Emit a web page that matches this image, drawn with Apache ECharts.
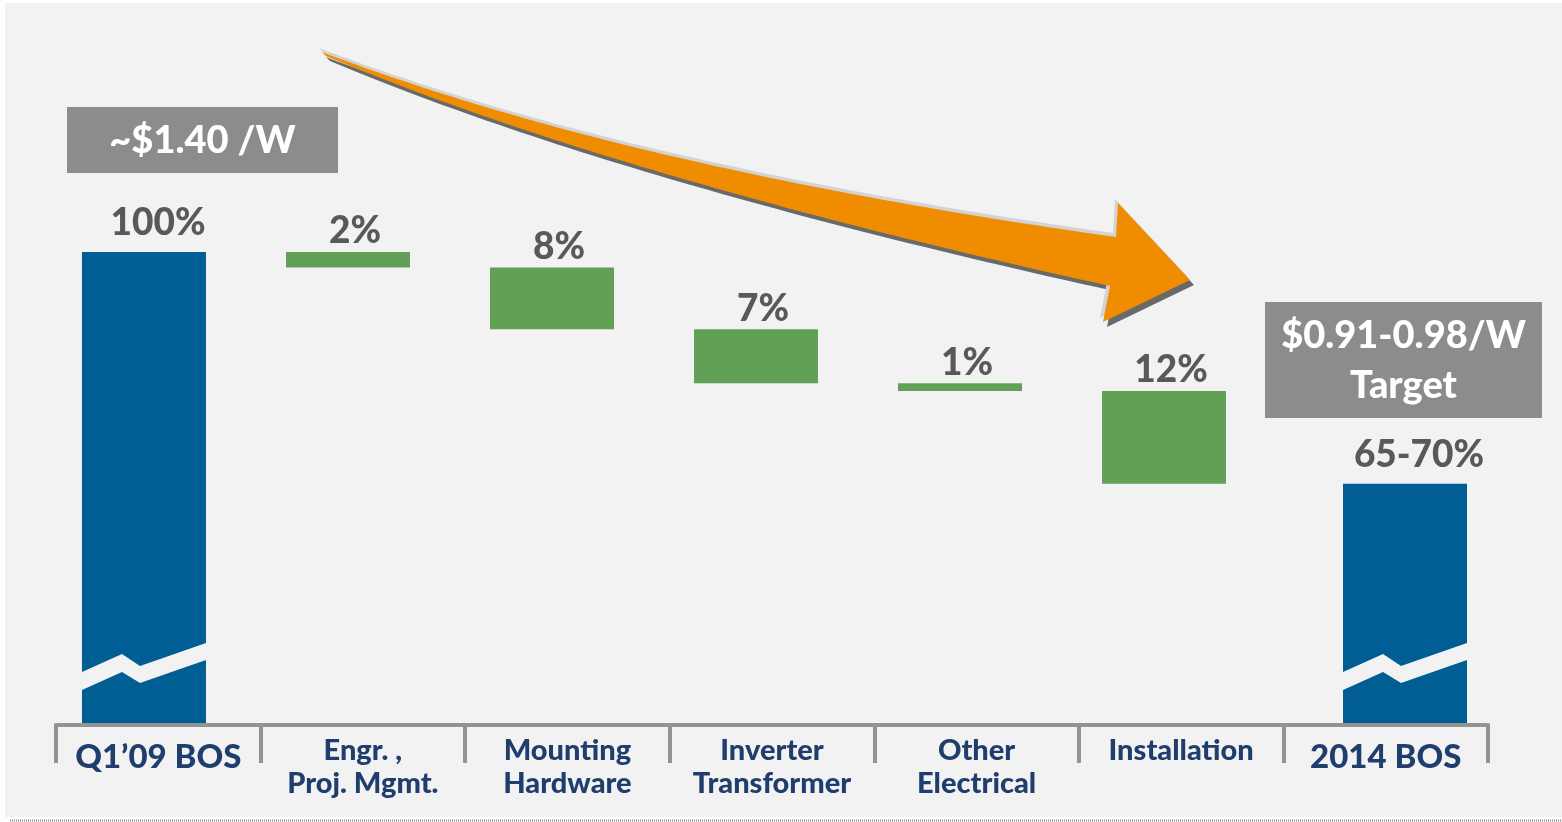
<!DOCTYPE html>
<html>
<head>
<meta charset="utf-8">
<script src="https://cdn.jsdelivr.net/npm/echarts@6/dist/echarts.min.js"></script>
<style>
  html, body { margin: 0; padding: 0; background: #ffffff; }
  #chart { width: 1562px; height: 822px; }
</style>
</head>
<body>
<div id="chart"></div>
<script>
// BOS cost waterfall: starting cost, reductions by component, target cost
const categories = ['Q1’09 BOS', 'Engr. ,\nProj. Mgmt.', 'Mounting\nHardware', 'Inverter\nTransformer', 'Other\nElectrical', 'Installation', '2014 BOS'];
const totals = [100, null, null, null, null, null, 70];
const reductions = [null, 2, 8, 7, 1, 12, null];
const valueLabels = ['100%', '2%', '8%', '7%', '1%', '12%', '65-70%'];
const startPrice = '~$1.40 /W';
const targetPrice = ['$0.91-0.98/W', 'Target'];

// invisible bases so each reduction floats under the previous level
let level = totals[0];
const bases = reductions.map(r => {
  if (r == null) return '-';
  level -= r;
  return level;
});

const FONT = 'Lato';
const WEIGHT = 900;
const PANEL = '#f2f2f2';
const BLUE = '#005e94';
const GREEN = '#62a058';
const NAVY = '#1f3e6e';
const AXIS_GRAY = '#939393';
const BOX_GRAY = '#8b8c8e';
const ORANGE = '#f08c00';
const Y_MIN = 39, Y_MAX = 105;
const BAR_W = 124;

// stripe cutting the tall bars (axis break), relative to the bar's bottom-left corner
const breakShape = [[0, -51], [40, -69], [58, -57], [124, -80], [124, -63], [58, -40], [40, -51], [0, -33]];

// decorative curved arrow outline, built from two quadratic curves
function quad(p0, c, p1, n) {
  const pts = [];
  for (let i = 0; i <= n; i++) {
    const t = i / n, u = 1 - t;
    pts.push([u * u * p0[0] + 2 * u * t * c[0] + t * t * p1[0], u * u * p0[1] + 2 * u * t * c[1] + t * t * p1[1]]);
  }
  return pts;
}
const arrowPoints = []
  .concat(quad([322, 52], [630, 169], [1116, 237], 60))
  .concat([[1118, 203], [1190, 280], [1103, 322]])
  .concat(quad([1110, 286], [613.5, 176.8], [326, 56], 60));

const chart = echarts.init(document.getElementById('chart'), null, { renderer: 'canvas' });

const gridTop = 213.4;
const hiddenY = i => ({ type: 'value', gridIndex: i, min: Y_MIN, max: Y_MAX, show: false });
const hiddenX = i => ({ type: 'category', gridIndex: i, data: categories, show: false });

const valueLabel = (distance, offset) => ({
  show: true,
  position: 'top',
  distance,
  offset,
  color: '#595959',
  fontFamily: FONT,
  fontWeight: WEIGHT,
  fontSize: 37,
  formatter: p => valueLabels[p.dataIndex]
});

chart.setOption({
  backgroundColor: '#ffffff',
  animation: false,
  grid: [
    { left: 56, right: 74, top: gridTop, bottom: 97 },    // category axis
    { left: 42, right: 92, top: gridTop, bottom: 99 },    // reduction bars
    { left: 38.9, right: 51.9, top: gridTop, bottom: 99 } // total bars
  ],
  xAxis: [
    {
      type: 'category',
      gridIndex: 0,
      data: categories,
      boundaryGap: true,
      axisLine: { show: true, lineStyle: { color: AXIS_GRAY, width: 4 } },
      axisTick: { show: true, interval: 0, length: 38, lineStyle: { color: AXIS_GRAY, width: 4 } },
      axisLabel: {
        interval: 0,
        margin: 9,
        color: NAVY,
        fontFamily: FONT,
        fontWeight: WEIGHT,
        fontSize: 29,
        lineHeight: 33,
        formatter: (v, i) => (totals[i] != null ? '{big|' + v + '}' : v),
        rich: {
          big: { fontFamily: FONT, fontWeight: WEIGHT, fontSize: 33, lineHeight: 47, color: NAVY }
        }
      },
      splitLine: { show: false }
    },
    hiddenX(1),
    hiddenX(2)
  ],
  yAxis: [hiddenY(0), hiddenY(1), hiddenY(2)],
  series: [
    {
      name: 'base',
      type: 'bar',
      xAxisIndex: 1,
      yAxisIndex: 1,
      stack: 'wf',
      barWidth: BAR_W,
      silent: true,
      itemStyle: { color: 'rgba(0,0,0,0)' },
      data: bases
    },
    {
      name: 'reduction',
      type: 'bar',
      xAxisIndex: 1,
      yAxisIndex: 1,
      stack: 'wf',
      barWidth: BAR_W,
      itemStyle: { color: GREEN },
      label: valueLabel(2, [7, 0]),
      data: reductions.map(v => (v == null ? '-' : v))
    },
    {
      name: 'total',
      type: 'bar',
      xAxisIndex: 2,
      yAxisIndex: 2,
      barWidth: BAR_W,
      clip: true,
      itemStyle: { color: BLUE },
      label: valueLabel(10, [14, 0]),
      data: totals.map(v => (v == null ? '-' : v))
    },
    {
      name: 'break',
      type: 'custom',
      xAxisIndex: 2,
      yAxisIndex: 2,
      z: 5,
      silent: true,
      data: totals.map((v, i) => (v == null ? null : [i, Y_MIN])).filter(d => d),
      renderItem: (params, api) => {
        const p = api.coord([api.value(0), Y_MIN]);
        const x0 = p[0] - BAR_W / 2;
        const yb = p[1];
        return {
          type: 'polygon',
          shape: { points: breakShape.map(([dx, dy]) => [x0 + dx, yb + dy]) },
          style: { fill: PANEL }
        };
      }
    }
  ],
  graphic: [
    { type: 'rect', z: -10, shape: { x: 5, y: 3, width: 1557, height: 814 }, style: { fill: PANEL } },
    { type: 'line', z: -9, shape: { x1: 10, y1: 820.5, x2: 1562, y2: 820.5 }, style: { stroke: '#8a8a8a', lineWidth: 2, lineDash: [1, 1] } },
    // curved arrow with its shadow and highlight
    { type: 'polygon', z: 1, x: 4, y: 5, shape: { points: arrowPoints }, style: { fill: 'rgba(90,90,90,0.9)' } },
    { type: 'polygon', z: 2, x: -3, y: -4, shape: { points: arrowPoints }, style: { fill: '#d3d3d3' } },
    { type: 'polygon', z: 3, shape: { points: arrowPoints }, style: { fill: ORANGE } },
    // price boxes
    { type: 'rect', z: 1, shape: { x: 67, y: 107, width: 271, height: 66 }, style: { fill: BOX_GRAY } },
    {
      type: 'text', z: 2, x: 202.5, y: 141,
      style: { text: startPrice, fill: '#ffffff', font: WEIGHT + ' 38px ' + FONT, align: 'center', verticalAlign: 'middle' }
    },
    { type: 'rect', z: 1, shape: { x: 1265, y: 302, width: 277, height: 116 }, style: { fill: BOX_GRAY } },
    {
      type: 'text', z: 2, x: 1403.5, y: 361,
      style: { text: targetPrice.join('\n'), fill: '#ffffff', font: WEIGHT + ' 38px ' + FONT, lineHeight: 50, align: 'center', verticalAlign: 'middle' }
    }
  ]
});
</script>
</body>
</html>
